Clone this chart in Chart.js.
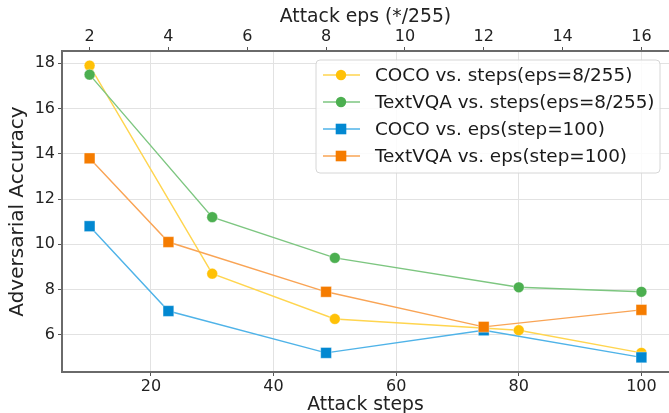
<!DOCTYPE html>
<html><head><meta charset="utf-8">
<script src="https://cdn.jsdelivr.net/npm/chart.js@4/dist/chart.umd.min.js"></script>
<style>html,body{margin:0;padding:0;background:#fff;overflow:hidden}#wrap{width:669px;height:413px}canvas{display:block}</style>
</head><body><div id="wrap"><canvas id="c" width="669" height="413"></canvas></div>
<script>
const stepValues = [10, 30, 50, 80, 100];
const epsValues = [2, 4, 8, 12, 16];
const cocoVsSteps = [17.9, 8.7, 6.7, 6.2, 5.2];
const textvqaVsSteps = [17.5, 11.2, 9.4, 8.1, 7.9];
const cocoVsEps = [10.8, 7.05, 5.2, 6.2, 5.0];
const textvqaVsEps = [13.8, 10.1, 7.9, 6.35, 7.1];
const stepTicks = [20, 40, 60, 80, 100];
const epsTicks = [2, 4, 6, 8, 10, 12, 14, 16];
const yTicks = [6, 8, 10, 12, 14, 16, 18];
const seriesLabels = ['COCO vs. steps(eps=8/255)', 'TextVQA vs. steps(eps=8/255)', 'COCO vs. eps(step=100)', 'TextVQA vs. eps(step=100)'];
const markerColors = ['#FFC107', '#4CAF50', '#0288D1', '#F57C00'];
const lineColors = ['#FFD54F', '#7DC680', '#4FB3E8', '#F9A455'];
const pointStyles = ['circle', 'circle', 'rect', 'rect'];

const FONT = "'DejaVu Sans', sans-serif";
const pts = (xs, ys) => xs.map((x, i) => ({x: x, y: ys[i]}));
const seriesData = [pts(stepValues, cocoVsSteps), pts(stepValues, textvqaVsSteps), pts(epsValues, cocoVsEps), pts(epsValues, textvqaVsEps)];
const axisIds = ['x', 'x', 'x2', 'x2'];

const datasets = seriesData.map((d, i) => ({
  label: seriesLabels[i],
  data: d,
  xAxisID: axisIds[i],
  yAxisID: 'y',
  borderColor: lineColors[i],
  borderWidth: 1.4,
  backgroundColor: markerColors[i],
  pointBackgroundColor: markerColors[i],
  pointBorderColor: 'rgba(255,255,255,0.6)',
  pointBorderWidth: 0.6,
  pointStyle: pointStyles[i],
  pointRadius: pointStyles[i] === 'rect' ? 7.6 : 5.4,
  pointHoverRadius: pointStyles[i] === 'rect' ? 7.6 : 5.4,
  tension: 0,
  fill: false,
  clip: false,
  order: 4 - i
}));

const legendPlugin = {
  id: 'customLegend',
  afterDatasetsDraw(chart) {
    const ctx = chart.ctx;
    const bx = 316, by = 60, bw = 344, bh = 113, r = 4;
    ctx.save();
    ctx.beginPath();
    ctx.moveTo(bx + r, by);
    ctx.arcTo(bx + bw, by, bx + bw, by + bh, r);
    ctx.arcTo(bx + bw, by + bh, bx, by + bh, r);
    ctx.arcTo(bx, by + bh, bx, by, r);
    ctx.arcTo(bx, by, bx + bw, by, r);
    ctx.closePath();
    ctx.fillStyle = 'rgba(255,255,255,0.85)';
    ctx.fill();
    ctx.strokeStyle = '#d6d6d6';
    ctx.lineWidth = 1;
    ctx.stroke();
    const rowY = [75, 102, 129, 156];
    seriesLabels.forEach((lab, i) => {
      const y = rowY[i];
      ctx.beginPath();
      ctx.moveTo(323, y); ctx.lineTo(360, y);
      ctx.strokeStyle = lineColors[i];
      ctx.lineWidth = 1.4;
      ctx.stroke();
      ctx.fillStyle = markerColors[i];
      if (pointStyles[i] === 'rect') {
        ctx.fillRect(341 - 5.3, y - 5.3, 10.6, 10.6);
      } else {
        ctx.beginPath(); ctx.arc(341, y, 5.2, 0, Math.PI * 2); ctx.fill();
      }
      ctx.fillStyle = '#1a1a1a';
      ctx.font = "18.4px " + FONT;
      ctx.textBaseline = 'middle';
      ctx.textAlign = 'left';
      ctx.fillText(lab, 375, y + 1);
    });
    ctx.restore();
  }
};

const tickFont = {family: FONT, size: 16};
const titleFont = {family: FONT, size: 18.8};
const noPad = s => {
  s.paddingLeft = 0; s.paddingRight = 0; s.paddingTop = 0; s.paddingBottom = 0;
};

new Chart(document.getElementById('c'), {
  type: 'line',
  data: {datasets: datasets},
  options: {
    responsive: false,
    devicePixelRatio: 1,
    animation: false,
    layout: {padding: 0, autoPadding: false},
    plugins: {legend: {display: false}, tooltip: {enabled: false}},
    scales: {
      x: {
        type: 'linear', position: 'bottom', min: 5.5, max: 104.5,
        afterBuildTicks: s => { s.ticks = stepTicks.map(v => ({value: v})); },
        afterFit: s => { s.height = 41; noPad(s); },
        grid: {color: '#e2e2e2', lineWidth: 1, tickLength: 4, tickColor: '#555'},
        border: {color: '#6a6a6a', width: 2},
        ticks: {font: tickFont, color: '#222', padding: 1, maxRotation: 0},
        title: {display: true, text: 'Attack steps', font: titleFont, color: '#222', padding: {top: 0, bottom: -3}}
      },
      x2: {
        type: 'linear', position: 'top', min: 1.3, max: 16.7,
        afterBuildTicks: s => { s.ticks = epsTicks.map(v => ({value: v})); },
        afterFit: s => { s.height = 51; noPad(s); },
        grid: {drawOnChartArea: false, tickLength: 4, tickColor: '#555'},
        border: {color: '#6a6a6a', width: 2},
        ticks: {font: tickFont, color: '#222', padding: 1, maxRotation: 0},
        title: {display: true, text: 'Attack eps (*/255)', font: titleFont, color: '#222', padding: {top: 6, bottom: 0}}
      },
      y: {
        type: 'linear', position: 'left', min: 4.355, max: 18.545,
        afterBuildTicks: s => { s.ticks = yTicks.map(v => ({value: v})); },
        afterFit: s => { s.width = 62; noPad(s); },
        grid: {color: '#e2e2e2', lineWidth: 1, tickLength: 4, tickColor: '#555'},
        border: {color: '#6a6a6a', width: 2},
        ticks: {font: tickFont, color: '#222', padding: 3},
        title: {display: true, text: 'Adversarial Accuracy', font: {family: FONT, size: 20}, color: '#222', padding: {top: 6, bottom: 0}}
      }
    }
  },
  plugins: [legendPlugin]
});
</script></body></html>
